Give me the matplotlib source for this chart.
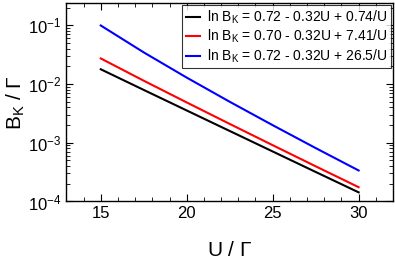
import matplotlib
matplotlib.use("Agg")
import matplotlib.pyplot as plt
from matplotlib.ticker import LogLocator, MultipleLocator, NullFormatter

plt.rcParams.update({
    "font.family": ["Liberation Sans", "DejaVu Sans"],
    "mathtext.fontset": "custom",
    "mathtext.rm": "Liberation Sans",
    "mathtext.it": "Liberation Sans",
})

# values
U = [15, 17.5, 20, 22.5, 25, 27.5, 30]
b_black = [0.0178, 7.92e-3, 3.54e-3, 1.585e-3, 7.1e-4, 3.18e-4, 1.43e-4]
b_red = [0.0272, 1.137e-2, 4.85e-3, 2.09e-3, 9.08e-4, 3.97e-4, 1.75e-4]
b_blue = [0.099, 0.0345, 0.01284, 4.98e-3, 1.99e-3, 8.11e-4, 3.37e-4]
labels = [
    r"ln B$_\mathrm{K}$ = 0.72 - 0.32U + 0.74/U",
    r"ln B$_\mathrm{K}$ = 0.70 - 0.32U + 7.41/U",
    r"ln B$_\mathrm{K}$ = 0.72 - 0.32U + 26.5/U",
]

fig = plt.figure(figsize=(3.95, 2.62), dpi=100)
ax = fig.add_axes([0.168, 0.231, 0.827, 0.758])

ax.plot(U, b_black, color="black", lw=1.5, label=labels[0])
ax.plot(U, b_red, color="red", lw=1.5, label=labels[1])
ax.plot(U, b_blue, color="blue", lw=1.5, label=labels[2])

ax.set_yscale("log")
ax.set_xlim(13, 32)
ax.set_ylim(1e-4, 0.24)
ax.xaxis.set_major_locator(MultipleLocator(5))
ax.xaxis.set_minor_locator(MultipleLocator(1))
ax.yaxis.set_major_locator(LogLocator(base=10, numticks=10))
ax.yaxis.set_minor_locator(LogLocator(base=10, subs=range(2, 10), numticks=20))
ax.yaxis.set_minor_formatter(NullFormatter())

ax.tick_params(which="both", direction="in", top=True, right=True, labelsize=12)
ax.tick_params(which="major", length=5, width=0.8)
ax.tick_params(which="minor", length=3, width=0.6)
for s in ax.spines.values():
    s.set_linewidth(1.0)

ax.set_xlabel(r"U / $\Gamma$", fontsize=15, labelpad=14)
ax.set_ylabel(r"B$_\mathrm{K}$ / $\Gamma$", fontsize=15, labelpad=1)

leg = ax.legend(loc="upper right", fontsize=10, frameon=True, fancybox=False,
                edgecolor="black", handlelength=1.0, handletextpad=0.5,
                borderpad=0.25, labelspacing=0.15, borderaxespad=0.15)
leg.get_frame().set_linewidth(0.8)

fig.savefig("out.png", dpi=100)
